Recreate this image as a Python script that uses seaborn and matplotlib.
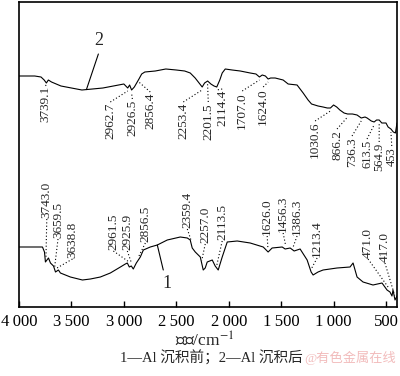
import numpy as np
import pandas as pd
import matplotlib
matplotlib.use("Agg")
import matplotlib.pyplot as plt
import seaborn as sns

# ---- data (relative transmittance, arbitrary units) ----
wn_after = [4000, 3850, 3790, 3760, 3739, 3720, 3690, 3600, 3500, 3400, 3300, 3200, 3100,
            3000, 2963, 2945, 2926, 2900, 2856, 2830, 2800, 2700, 2600, 2500, 2420, 2367,
            2320, 2290, 2253, 2230, 2201, 2170, 2140, 2114, 2085, 2062, 2033, 1967, 1890,
            1795, 1740, 1707, 1680, 1650, 1624, 1600, 1557, 1481, 1433, 1348, 1290, 1243,
            1210, 1148, 1100, 1060, 1030, 1000, 970, 940, 900, 866, 820, 776, 736, 700, 680,
            640, 613, 590, 565, 540, 500, 480, 453, 430, 410, 395]
t_after = [231, 231, 230, 227, 224, 227, 225, 221, 219, 217, 218, 219, 221,
           223, 219, 222, 217, 220, 228, 233, 235, 236, 238, 237, 236, 234,
           229, 225, 220, 224, 226, 223, 221, 220, 227, 234, 238, 237, 236,
           234, 233, 230, 232, 231, 228, 229, 229, 227, 223, 222, 214, 207,
           203, 201, 200, 199, 199, 202, 200, 197, 194, 193, 193, 192, 189, 190, 189,
           186, 185, 187, 187, 184, 184, 180, 178, 175, 174, 184]

wn_before = [4000, 3776, 3757, 3748, 3719, 3700, 3671, 3652, 3624, 3605, 3510, 3395, 3319,
             3224, 3129, 3033, 2986, 2967, 2948, 2929, 2910, 2881, 2843, 2814, 2748, 2681,
             2586, 2462, 2395, 2367, 2348, 2319, 2271, 2243, 2224, 2205, 2157, 2129, 2100,
             2062, 2014, 1919, 1795, 1671, 1624, 1586, 1490, 1462, 1414, 1376, 1319, 1252,
             1214, 1195, 1148, 1100, 967, 843, 814, 776, 719, 624, 538, 490, 462, 443, 433,
             414, 395]
t_before = [60, 60, 55, 45, 49, 44, 41, 35, 37, 34, 30, 27, 28,
            30, 34, 40, 43, 44, 40, 41, 38, 44, 50, 57, 60, 62,
            67, 70, 69, 67, 59, 55, 50, 37, 39, 45, 47, 41, 37,
            50, 65, 66, 64, 60, 55, 59, 60, 58, 59, 56, 58, 47,
            35, 32, 35, 37, 39, 40, 44, 30, 25, 22, 24, 17, 15, 11, 17,
            7, 11]

peaks_after = ["3739.1", "2962.7", "2926.5", "2856.4", "2253.4", "2201.5", "2114.4",
               "1707.0", "1624.0", "1030.6", "866.2", "736.3", "613.5", "564.9", "453"]
peaks_before = ["3743.0", "3659.5", "3638.8", "2961.5", "2925.9", "2856.5", "2359.4",
                "2257.0", "2113.5", "1626.0", "1456.3", "1386.3", "1213.4", "471.0", "417.0"]

tick_vals = [4000, 3500, 3000, 2500, 2000, 1500, 1000, 500]
tick_labels = ["4\u2009000", "3\u2009500", "3\u2009000", "2\u2009500", "2\u2009000",
               "1\u2009500", "1\u2009000", "500"]

# ---- layout for peak labels (text anchor positions) ----
pos_after = [(3748, 221), (3129, 204), (2919, 207), (2748, 214), (2433, 204), (2195, 204),
             (2062, 217), (1871, 215), (1671, 219), (1176, 185), (967, 177), (824, 170),
             (681, 167), (565, 164), (445, 160)]
pos_before = [(3735, 89), (3628, 69), (3490, 49), (3100, 57), (2967, 57), (2795, 65),
              (2395, 79), (2224, 64), (2062, 67), (1633, 72), (1481, 75), (1348, 72),
              (1157, 50), (671, 49), (510, 45)]

sns.set_theme(style="white")
plt.rcParams["font.family"] = ["Liberation Serif", "Noto Sans CJK SC", "DejaVu Sans"]
plt.rcParams["mathtext.fontset"] = "stix"

fig = plt.figure(figsize=(4.0, 3.76), dpi=100)
ax = fig.add_axes([19 / 400, 1 - 307 / 376, 378 / 400, 305 / 376])

df = pd.concat([
    pd.DataFrame({"wn": wn_after, "T": t_after, "curve": "2"}),
    pd.DataFrame({"wn": wn_before, "T": t_before, "curve": "1"}),
])
sns.lineplot(data=df, x="wn", y="T", hue="curve", palette=["black", "black"],
             estimator=None, legend=False, linewidth=0.8, ax=ax)

ax.set_xlim(4000, 395)
ax.set_ylim(0, 305)
ax.set_xticks(tick_vals)
ax.set_xticklabels(tick_labels)
ax.set_yticks([])
ax.set_xlabel("")
ax.set_ylabel("")
ax.tick_params(axis="x", direction="in", length=4, width=1, pad=5, labelsize=12,
               colors="black", bottom=True, top=False)
for s in ax.spines.values():
    s.set_visible(True)
    s.set_color("black")
    s.set_linewidth(1.2)

fs = 9.5
# labels below the upper curve
for lab, (tx, ty) in zip(peaks_after, pos_after):
    w = float(lab)
    cy = np.interp(w, wn_after[::-1], t_after[::-1])
    fsz = 9 if w < 700 else fs
    ax.text(tx, ty, lab, rotation=90, ha="center", va="top", fontsize=fsz)
    ax.plot([tx, w], [ty + 1, cy - 3], ls=(0, (1, 2)), color="black", lw=0.8)
# labels above the lower curve
for lab, (tx, ty) in zip(peaks_before, pos_before):
    w = float(lab)
    cy = np.interp(w, wn_before[::-1], t_before[::-1])
    ax.text(tx, ty, lab, rotation=90, ha="center", va="bottom", fontsize=fs)
    ax.plot([tx, w], [ty - 1, cy + 3], ls=(0, (1, 2)), color="black", lw=0.8)

# curve identifiers
ax.text(3243, 258, "2", ha="center", va="bottom", fontsize=13)
ax.plot([3243, 3357], [253, np.interp(3357, wn_after[::-1], t_after[::-1])], color="black", lw=0.8)
ax.text(2586, 24, "1", ha="center", va="center", fontsize=13)
ax.plot([2624, 2681], [37, np.interp(2681, wn_before[::-1], t_before[::-1])], color="black", lw=0.8)

fig.text(205 / 400, 1 - 340 / 376, "波数/cm$^{-1}$", ha="center", va="center", fontsize=12.5)
fig.text(211 / 400, 1 - 358 / 376, "1—Al 沉积前；2—Al 沉积后", ha="center", va="center",
         fontsize=10.5)
fig.text(350 / 400, 1 - 358 / 376, "@有色金属在线", ha="center", va="center",
         fontsize=9.5, color="#f2bcbc")

fig.savefig("out.png", dpi=100)
